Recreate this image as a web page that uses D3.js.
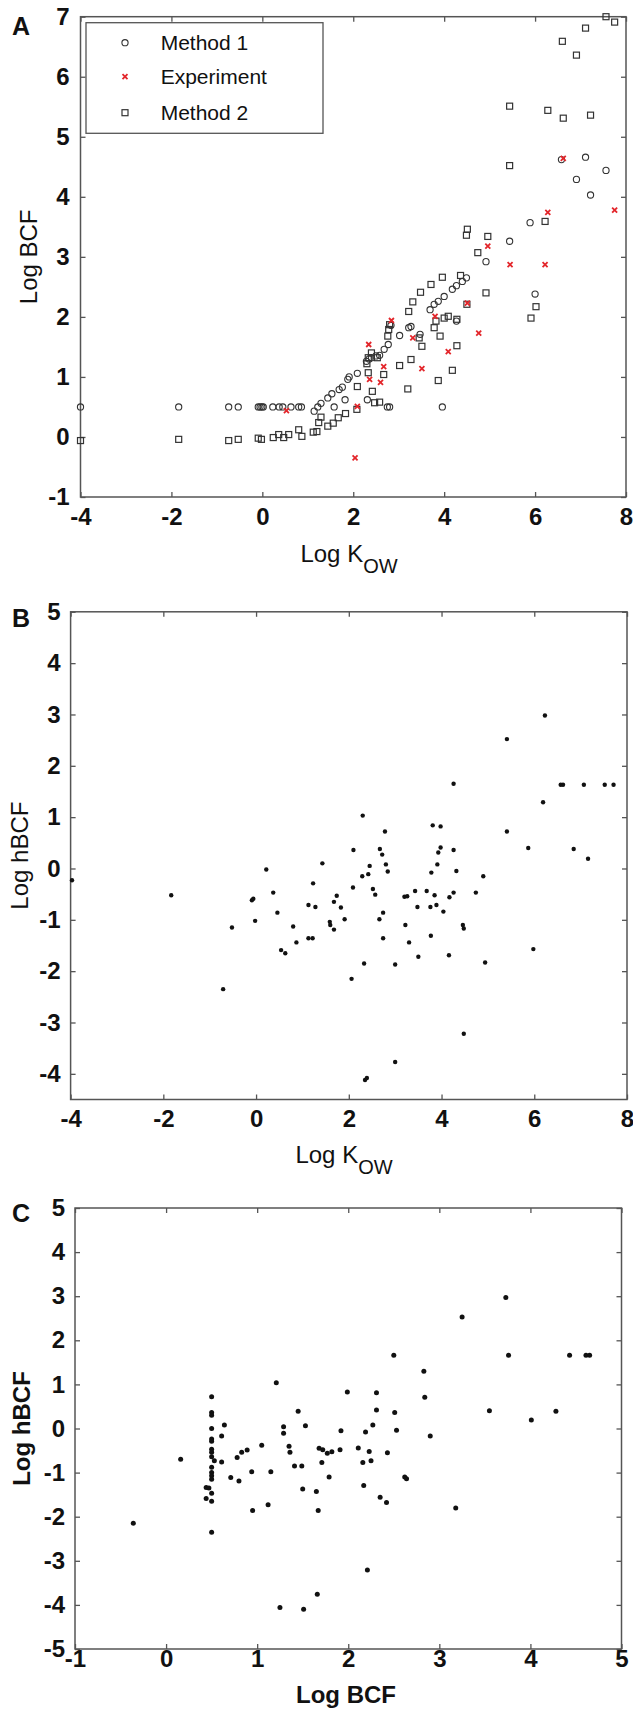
<!DOCTYPE html>
<html><head><meta charset="utf-8">
<script src="https://cdn.jsdelivr.net/npm/d3@7"></script>
<style>
body{margin:0;background:#fff}
text{font-family:"Liberation Sans",Arial,Helvetica,sans-serif;fill:#111}
</style>
</head><body>
<svg id="chart" width="633" height="1709"></svg>
<script>
// ---------- Panel A data ----------
const method1X=[-4.0,-1.84,-0.74,-0.53,-0.09,-0.05,-0.01,0.02,0.23,0.37,0.45,0.63,0.8,0.86,1.58,2.75,2.8,3.96,
 1.14,1.22,1.29,1.44,1.53,1.69,1.76,1.88,1.91,2.09,2.29,2.35,2.4,2.5,2.58,2.68,2.77,2.83,3.02,3.22,3.27,3.47,
 3.69,3.78,3.87,4.0,4.18,4.27,4.4,4.49,4.27,4.92,6.0,2.31,1.82,5.44,5.89,6.58,7.11,6.91,7.22,7.56];
const method1Y=[0.5,0.5,0.5,0.5,0.5,0.5,0.5,0.5,0.5,0.5,0.5,0.5,0.5,0.5,0.5,0.5,0.5,0.5,
 0.43,0.5,0.56,0.65,0.72,0.79,0.83,0.96,1.0,1.06,1.26,1.3,1.32,1.35,1.36,1.46,1.54,1.86,1.69,1.82,1.84,1.71,
 2.12,2.21,2.26,2.34,2.46,2.52,2.59,2.65,1.93,2.92,2.38,0.62,0.62,3.26,3.57,4.62,4.66,4.29,4.03,4.44];
const experimentX=[0.53,2.04,2.09,2.34,2.36,2.6,2.67,2.84,3.31,3.51,3.8,4.09,4.51,4.76,5.45,6.22,4.96,6.28,6.62,7.75];
const experimentY=[0.44,-0.35,0.51,1.54,0.96,0.91,1.17,1.94,1.65,1.14,2.01,1.42,2.23,1.73,2.87,2.87,3.18,3.74,4.64,3.78];
const method2X=[-4.0,-1.84,-0.74,-0.53,-0.09,-0.02,0.24,0.36,0.47,0.58,0.8,0.87,1.12,1.2,1.24,1.29,1.44,1.56,1.67,1.83,
 2.08,2.42,2.33,2.67,2.09,2.33,2.53,2.76,2.78,2.8,3.02,3.2,3.27,3.51,3.45,3.22,3.31,3.48,3.71,3.96,4.36,3.78,3.82,3.91,
 3.87,4.0,4.09,4.18,4.28,4.28,4.5,4.74,4.92,5.91,6.02,2.47,2.58,4.49,4.51,4.96,6.22,5.44,5.44,6.28,6.62,7.22,6.6,6.91,
 7.11,7.56,7.75,2.3,2.4];
const method2Y=[-0.06,-0.04,-0.06,-0.04,-0.02,-0.04,-0.01,0.04,-0.01,0.04,0.12,0.01,0.08,0.09,0.24,0.33,0.18,0.23,0.32,0.39,
 0.46,0.76,1.07,1.04,0.84,1.32,1.32,1.68,1.79,1.87,1.19,0.8,1.29,1.51,1.65,2.09,2.25,2.41,2.54,2.66,2.69,1.82,1.93,1.68,
 0.94,1.98,2.01,1.11,1.52,1.96,2.21,3.07,2.4,1.98,2.17,0.57,0.58,3.36,3.46,3.34,3.59,4.52,5.51,5.44,5.31,5.36,6.59,6.36,
 6.81,7.0,6.91,1.22,1.4];
const legendLabels=["Method 1","Experiment","Method 2"];

// ---------- Panel B data (Log Kow vs Log hBCF) ----------
const bKowX=[-3.97,-1.83,-0.71,-0.52,-0.09,-0.06,-0.02,0.22,0.37,0.46,0.54,0.63,0.8,0.87,1.13,1.13,1.22,1.23,1.28,1.43,
 1.59,1.6,1.68,1.74,1.68,1.83,1.91,2.06,2.09,2.1,2.29,2.3,2.33,2.35,2.39,2.42,2.45,2.52,2.57,2.66,2.67,2.72,2.74,2.74,
 2.78,2.8,2.84,3.0,3.0,3.2,3.26,3.22,3.3,3.43,3.48,3.5,3.68,3.76,3.78,3.77,3.81,3.85,3.89,3.91,3.93,3.98,3.98,4.04,
 4.16,4.17,4.26,4.26,4.26,4.32,4.46,4.48,4.48,4.74,4.9,4.94,5.41,5.41,5.87,5.98,6.19,6.23,6.57,6.62,6.85,7.07,7.16,
 7.52,7.71];
const bHbcfY=[-0.23,-0.52,-2.35,-1.15,-0.62,-0.59,-1.02,-0.02,-0.47,-0.86,-1.59,-1.65,-1.13,-1.44,-0.71,-1.36,-1.36,-0.29,-0.75,0.1,
 -1.04,-1.1,-0.65,-0.53,-1.19,-0.76,-0.99,-2.15,-0.37,0.36,-0.15,1.03,-1.85,-4.12,-4.08,-0.11,0.05,-0.4,-0.51,-0.99,0.38,0.27,-0.86,-1.36,
 0.72,0.08,-0.06,-1.87,-3.77,-0.55,-0.54,-1.1,-1.44,-0.44,-0.75,-1.72,-0.44,-0.75,-0.08,-1.31,0.84,-0.52,-0.71,0.08,0.31,0.41,0.82,-0.84,
 -1.69,-0.56,-0.47,0.36,1.65,-0.05,-1.1,-1.17,-3.22,-0.47,-0.15,-1.83,2.52,0.72,0.4,-1.57,1.29,2.98,1.63,1.63,0.38,1.63,0.19,
 1.63,1.63];

// ---------- Panel C data (Log BCF vs Log hBCF) ----------
const cBcfX=[-0.36,0.16,0.5,0.5,0.5,0.5,0.5,0.5,0.5,0.5,0.5,0.5,0.5,0.5,0.5,0.5,0.5,0.5,0.53,0.44,0.47,0.44,
 0.61,0.64,0.61,0.71,0.78,0.8,0.83,0.89,0.94,0.95,1.05,1.12,1.15,1.21,1.25,1.29,1.29,1.35,1.36,1.41,1.45,1.49,1.5,
 1.51,1.53,1.65,1.66,1.67,1.68,1.71,1.72,1.77,1.79,1.82,1.91,1.92,1.99,2.11,2.16,2.17,2.19,2.21,2.23,2.25,2.27,2.31,
 2.31,2.35,2.42,2.43,2.5,2.51,2.53,2.62,2.64,2.83,2.84,2.9,3.18,3.25,3.55,3.73,3.76,4.01,4.28,4.43,4.61,4.65];
const cHbcfY=[-2.15,-0.7,0.72,0.36,0.3,0.0,-0.24,-0.29,-0.47,-0.54,-0.64,-0.88,-1.0,-1.07,-1.15,-1.47,-1.65,-2.35,-0.73,-1.34,-1.35,-1.59,
 -0.17,0.08,-0.76,-1.11,-0.66,-1.19,-0.54,-0.49,-0.98,-1.86,-0.38,-1.73,-0.98,1.04,-4.06,0.04,-0.11,-0.4,-0.54,-0.85,0.39,-0.85,-1.37,
 -4.1,0.06,-1.43,-3.76,-1.86,-0.45,-0.77,-0.48,-0.56,-1.1,-0.53,-0.48,-0.05,0.83,-0.44,-0.77,-1.29,-0.08,-3.21,-0.52,-0.73,0.08,0.81,
 0.42,-1.56,-1.68,-0.55,1.66,0.36,-0.04,-1.1,-1.14,1.3,0.71,-0.17,-1.8,2.53,0.4,2.97,1.66,0.19,0.39,1.66,1.66,1.66];

// ---------- tick values ----------
const kowTicks=[-4,-2,0,2,4,6,8];
const bcfTicksA=[-1,0,1,2,3,4,5,6,7];
const hbcfTicksB=[-4,-3,-2,-1,0,1,2,3,4,5];
const bcfTicksC=[-1,0,1,2,3,4,5];
const hbcfTicksC=[-5,-4,-3,-2,-1,0,1,2,3,4,5];

const svg=d3.select("#chart");
const AX="#555";
const fmt=d=>String(d);

function panel(c){
  const g=svg.append("g");
  const x=d3.scaleLinear().domain(c.xd).range([c.L,c.R]);
  const y=d3.scaleLinear().domain(c.yd).range([c.B,c.T]);
  const tk=5;
  const gb=g.append("g").attr("transform",`translate(0,${c.B})`)
    .call(d3.axisBottom(x).tickValues(c.xt).tickSize(-tk).tickSizeOuter(0).tickFormat(fmt));
  gb.selectAll("text").attr("y",c.xLabBase).attr("dy",null);
  g.append("g").attr("transform",`translate(0,${c.T})`)
    .call(d3.axisTop(x).tickValues(c.xt).tickSize(-tk).tickSizeOuter(0).tickFormat(""));
  g.append("g").attr("transform",`translate(${c.L},0)`)
    .call(d3.axisLeft(y).tickValues(c.yt).tickSize(-tk).tickSizeOuter(0).tickPadding(c.yPad).tickFormat(fmt));
  g.append("g").attr("transform",`translate(${c.R},0)`)
    .call(d3.axisRight(y).tickValues(c.yt).tickSize(-tk).tickSizeOuter(0).tickFormat(""));
  g.selectAll(".domain").remove();
  g.selectAll(".tick line").attr("stroke",AX).attr("stroke-width",1.3);
  g.selectAll(".tick text").attr("font-size",24).attr("font-weight","bold")
    .attr("font-family",'"Liberation Sans",Arial,sans-serif').attr("fill","#111");
  g.append("rect").attr("x",c.L).attr("y",c.T).attr("width",c.R-c.L).attr("height",c.B-c.T)
    .attr("fill","none").attr("stroke",AX).attr("stroke-width",1.5);
  g.append("text").attr("x",12).attr("y",c.letterY).attr("font-size",25).attr("font-weight","bold").text(c.letter);
  g.append("text").attr("transform",`translate(${c.yTitleX},${(c.T+c.B)/2}) rotate(-90)`)
    .attr("text-anchor","middle").attr("font-size",24).attr("font-weight",c.titleWeight).text(c.yTitle);
  const xt=g.append("text").attr("x",c.xTitleX).attr("y",c.xTitleY).attr("text-anchor","middle")
    .attr("font-size",24).attr("font-weight",c.titleWeight);
  xt.append("tspan").text(c.xTitle);
  if(c.xSub) xt.append("tspan").attr("dy",11).attr("font-size",20).text(c.xSub);
  return {g,x,y};
}

// ---------- Panel A ----------
const A=panel({L:80.5,R:626,T:16.7,B:497,xd:[-4,8],yd:[-1,7],xt:kowTicks,yt:bcfTicksA,
  xLabBase:28,yPad:11,letter:"A",letterY:35,yTitle:"Log BCF",yTitleX:37,titleWeight:"normal",
  xTitle:"Log K",xSub:"OW",xTitleX:349,xTitleY:562});
const mk="#333";
A.g.append("g").selectAll("circle").data(d3.range(method1X.length)).join("circle")
  .attr("cx",i=>A.x(method1X[i])).attr("cy",i=>A.y(method1Y[i])).attr("r",3.1)
  .attr("fill","none").attr("stroke",mk).attr("stroke-width",1.1);
A.g.append("g").selectAll("rect").data(d3.range(method2X.length)).join("rect")
  .attr("x",i=>A.x(method2X[i])-3).attr("y",i=>A.y(method2Y[i])-3).attr("width",6).attr("height",6)
  .attr("fill","none").attr("stroke",mk).attr("stroke-width",1.2);
const xPath=(cx,cy,s)=>`M${cx-s},${cy-s}L${cx+s},${cy+s}M${cx-s},${cy+s}L${cx+s},${cy-s}`;
A.g.append("g").selectAll("path").data(d3.range(experimentX.length)).join("path")
  .attr("d",i=>xPath(A.x(experimentX[i]),A.y(experimentY[i]),2.5))
  .attr("stroke","#e3262b").attr("stroke-width",1.8).attr("fill","none");
const lg=A.g.append("g");
lg.append("rect").attr("x",86).attr("y",22.7).attr("width",237).attr("height",110.6)
  .attr("fill","#fff").attr("stroke",AX).attr("stroke-width",1.3);
const rowsY=[42.7,76.7,112.7];
lg.append("circle").attr("cx",125).attr("cy",rowsY[0]).attr("r",3.1).attr("fill","none").attr("stroke",mk).attr("stroke-width",1.1);
lg.append("path").attr("d",xPath(125,rowsY[1],2.5)).attr("stroke","#e3262b").attr("stroke-width",1.8);
lg.append("rect").attr("x",122).attr("y",rowsY[2]-3).attr("width",6).attr("height",6).attr("fill","none").attr("stroke",mk).attr("stroke-width",1.2);
lg.selectAll("text.l").data(legendLabels).join("text").attr("class","l")
  .attr("x",160.7).attr("y",(d,i)=>rowsY[i]+7.5).attr("font-size",21).text(d=>d);

// ---------- Panel B ----------
const B=panel({L:70.6,R:627,T:611.8,B:1099.5,xd:[-4,8],yd:[-4.5,5],xt:kowTicks,yt:hbcfTicksB,
  xLabBase:27,yPad:10,letter:"B",letterY:627,yTitle:"Log hBCF",yTitleX:28,titleWeight:"normal",
  xTitle:"Log K",xSub:"OW",xTitleX:344,xTitleY:1163});
B.g.append("g").selectAll("circle").data(d3.range(bKowX.length)).join("circle")
  .attr("cx",i=>B.x(bKowX[i])).attr("cy",i=>B.y(bHbcfY[i])).attr("r",2.2).attr("fill","#111");

// ---------- Panel C ----------
const C=panel({L:75,R:621.5,T:1208,B:1649,xd:[-1,5],yd:[-5,5],xt:bcfTicksC,yt:hbcfTicksC,
  xLabBase:18,yPad:10,letter:"C",letterY:1221.5,yTitle:"Log hBCF",yTitleX:30,titleWeight:"bold",
  xTitle:"Log BCF",xSub:null,xTitleX:346,xTitleY:1703});
C.g.append("g").selectAll("circle").data(d3.range(cBcfX.length)).join("circle")
  .attr("cx",i=>C.x(cBcfX[i])).attr("cy",i=>C.y(cHbcfY[i])).attr("r",2.5).attr("fill","#111");
</script>
</body></html>
